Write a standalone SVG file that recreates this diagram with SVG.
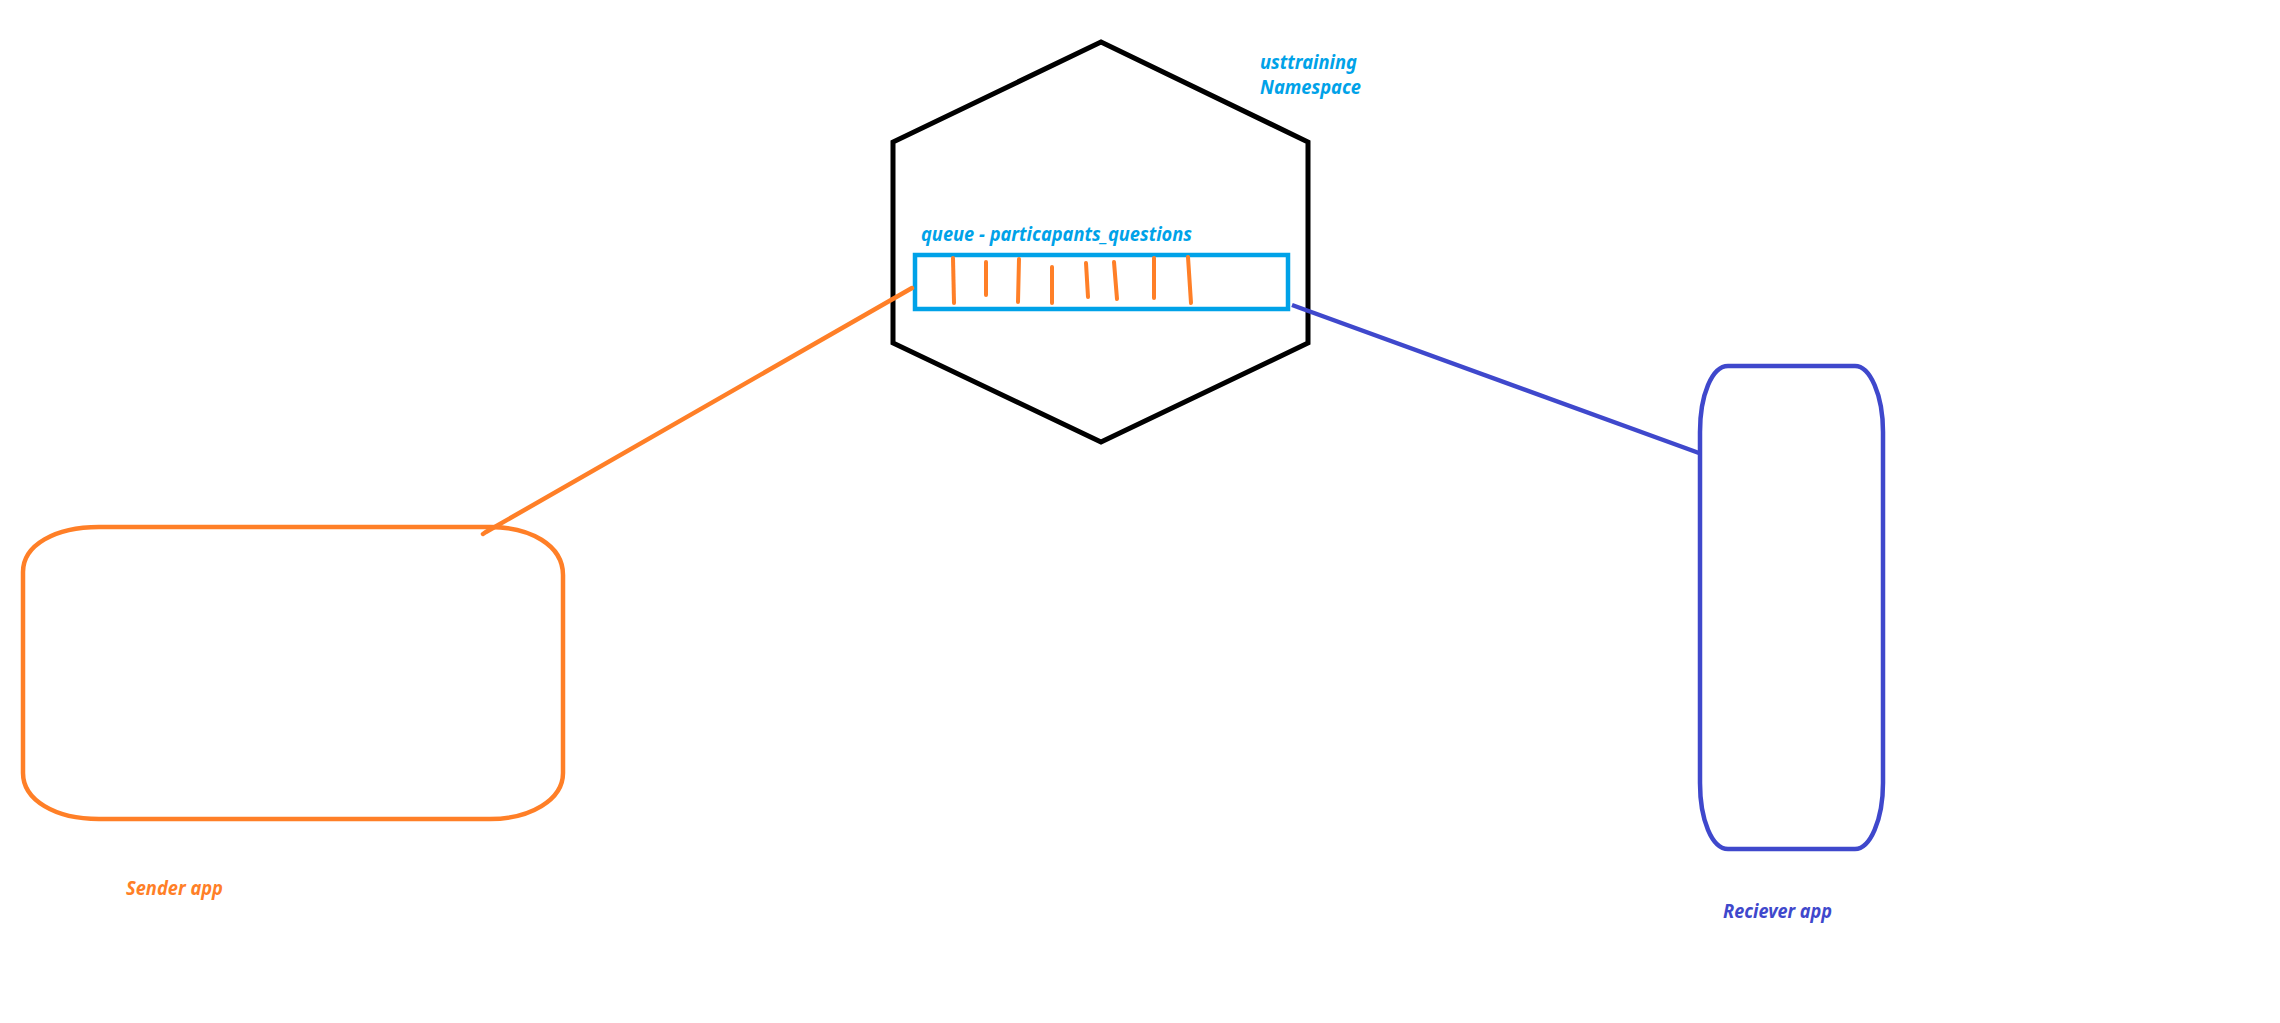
<svg xmlns="http://www.w3.org/2000/svg" width="2280" height="1023" viewBox="0 0 2280 1023">
<style>
.lbl{font-family:"Noto Sans","Open Sans","Liberation Sans",sans-serif;font-weight:bold;font-style:italic;font-size:20px}
.cyan{fill:#00A2E8}
.orange{fill:#FF7F27}
.indigo{fill:#3F48CC}
.tick{stroke:#FF7F27;stroke-width:4;stroke-linecap:round;fill:none}
</style>
<rect width="2280" height="1023" fill="#FFFFFF"/>
<g id="namespace">
<polygon points="1101,42 1308,142 1308,343 1101,442 893,343 893,142" fill="none" stroke="#000000" stroke-width="5"/>
<text class="lbl cyan" x="1260" y="69" textLength="97" lengthAdjust="spacingAndGlyphs">usttraining</text>
<text class="lbl cyan" x="1260" y="94" textLength="101" lengthAdjust="spacingAndGlyphs">Namespace</text>
</g>
<g id="queue">
<rect x="915" y="255" width="373" height="54" fill="none" stroke="#00A2E8" stroke-width="4.5"/>
<text class="lbl cyan" x="921" y="241" textLength="271" lengthAdjust="spacingAndGlyphs">queue - particapants_questions</text>
<line class="tick" x1="953" y1="258" x2="954" y2="303"/>
<line class="tick" x1="986" y1="262" x2="986" y2="295"/>
<line class="tick" x1="1019" y1="259" x2="1018" y2="302"/>
<line class="tick" x1="1052" y1="267" x2="1052" y2="303"/>
<line class="tick" x1="1086" y1="263" x2="1088" y2="297"/>
<line class="tick" x1="1114" y1="262" x2="1117" y2="299"/>
<line class="tick" x1="1154" y1="258" x2="1154" y2="298"/>
<line class="tick" x1="1188" y1="257" x2="1191" y2="303"/>
</g>
<g id="sender">
<path d="M99,527 H490 C530,527 563,545 563,575 V773 C563,800 530,819 490,819 H99 C55,819 23,800 23,773 V572 C23,545 55,527 99,527 Z" fill="none" stroke="#FF7F27" stroke-width="4.5"/>
<text class="lbl orange" x="126" y="895" textLength="97" lengthAdjust="spacingAndGlyphs">Sender app</text>
</g>
<g id="receiver">
<path d="M1728,366 H1855 C1870,366 1883,395 1883,432 V783 C1883,820 1870,849 1855,849 H1728 C1712,849 1700,820 1700,783 V432 C1700,395 1712,366 1728,366 Z" fill="none" stroke="#3F48CC" stroke-width="4.5"/>
<text class="lbl indigo" x="1723" y="918" textLength="109" lengthAdjust="spacingAndGlyphs">Reciever app</text>
</g>
<g id="connectors">
<polyline points="912,288 486,532 483,534" fill="none" stroke="#FF7F27" stroke-width="4.5" stroke-linecap="round"/>
<line x1="1292" y1="305" x2="1699" y2="453" stroke="#3F48CC" stroke-width="4.5"/>
</g>
</svg>
